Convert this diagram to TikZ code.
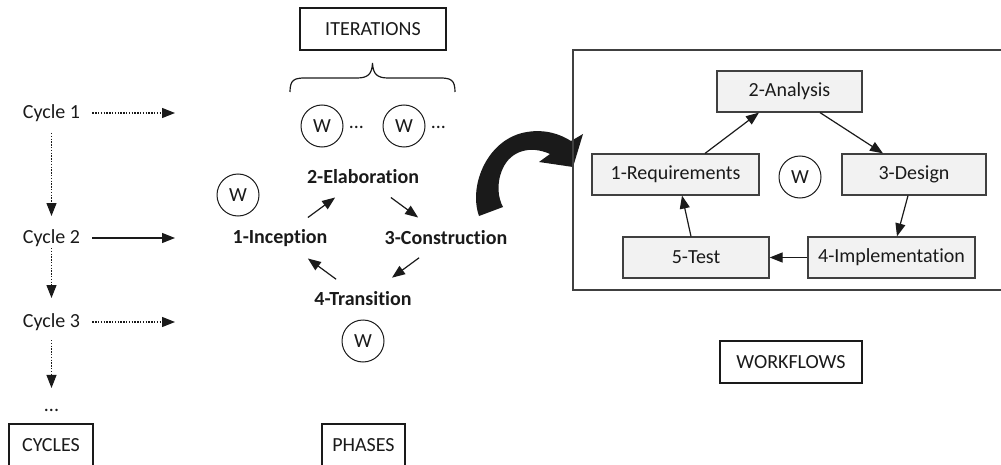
\documentclass[tikz,border=0pt]{standalone}
\usepackage{fontspec}
\setmainfont{Carlito}[RawFeature={-liga}]
\usetikzlibrary{arrows.meta}
\definecolor{wffill}{HTML}{F2F2F2}
\definecolor{wfline}{HTML}{404040}
\definecolor{ink}{HTML}{1A1A1A}
\begin{document}
\begin{tikzpicture}[x=0.5pt,y=-0.5pt,
  every node/.style={font=\fontsize{10}{12}\selectfont, inner sep=0pt, text=ink},
  tagbox/.style={draw=ink, line width=0.6pt, minimum height=21pt},
  wcircle/.style={circle, draw=ink, line width=0.5pt, minimum size=21pt},
  phase/.style={font=\fontsize{10}{12}\selectfont\bfseries},
  wfbox/.style={draw=wfline, fill=wffill, line width=0.6pt, minimum height=20.5pt},
  head/.style={-{Triangle[length=6.5pt,width=5pt]}},
  dotline/.style={draw=ink, line width=0.6pt, dash pattern=on 0.7pt off 0.7pt},
  solidline/.style={draw=ink, line width=0.6pt},
]
\useasboundingbox (0,0) rectangle (1001,465);
\clip (0,0) rectangle (1001,465);

% ---------- cycles ----------
\node (c1) at (51.5,113) {Cycle 1};
\node (c2) at (51.5,238) {Cycle 2};
\node (c3) at (51.5,322) {Cycle 3};
\node[anchor=base] (cdots) at (51.5,411) {...};
\node[tagbox, minimum width=42pt] (cycles) at (51,445) {CYCLES};

\coordinate (tgt) at (175,0);
\draw[dotline, head, shorten <=6pt] (c1.east) -- (c1.east -| tgt);
\draw[solidline, head, shorten <=6pt] (c2.east) -- (c2.east -| tgt);
\draw[dotline, head, shorten <=6pt] (c3.east) -- (c3.east -| tgt);

\draw[dotline, head, shorten <=10pt, shorten >=11pt] (c1.center) -- (c2.center);
\draw[dotline, head, shorten <=5pt, shorten >=12pt] (c2.center) -- (c3.center);
\draw[dotline, head, shorten <=9pt, shorten >=11pt] (c3.center) -- (cdots.center);

% ---------- iterations ----------
\node[tagbox, minimum width=73pt] (iter) at (373,29) {ITERATIONS};
\draw[ink, line width=0.6pt] (290,92) .. controls (290,80) and (294,78) .. (305,78)
  -- (357,78) .. controls (368,78) and (372,74) .. (372.5,63)
  .. controls (373,74) and (377,78) .. (388,78)
  -- (440,78) .. controls (451,78) and (455,80) .. (455,92);

\node[wcircle] (wa) at (322,126) {W};
\node[wcircle] (wb) at (404,126) {W};
\node[anchor=base west] (da) at ([xshift=2.5pt,yshift=-1.5pt]wa.east) {...};
\node[anchor=base west] (db) at ([xshift=2.5pt,yshift=-1.5pt]wb.east) {...};

% ---------- phases ----------
\node[phase] (inc) at (280,238) {1-Inception};
\node[phase] (ela) at (363,177) {2-Elaboration};
\node[phase] (con) at (446,238) {3-Construction};
\node[phase] (tra) at (363,299) {4-Transition};

\node[wcircle] (wl) at (238,195) {W};
\node[wcircle] (wt) at (363,341) {W};

\draw[solidline, head, shorten <=17.3pt, shorten >=17.3pt] (inc.center) -- (ela.center);
\draw[solidline, head, shorten <=17.3pt, shorten >=17.3pt] (ela.center) -- (con.center);
\draw[solidline, head, shorten <=16.7pt, shorten >=18pt] (con.center) -- (tra.center);
\draw[solidline, head, shorten <=16.7pt, shorten >=17.3pt] (tra.center) -- (inc.center);

\node[tagbox, minimum width=41.5pt] (phases) at (363.5,445) {PHASES};

% ---------- curved block arrow ----------
\fill[ink] (479,216) .. controls (468,185) and (488,138) .. (527,132)
  .. controls (545,129) and (560,134) .. (571,141)
  -- (583,134) -- (573,167) -- (539,162) -- (550,154)
  .. controls (530,145) and (511,151) .. (503,168)
  .. controls (496,183) and (498,198) .. (503,207) -- cycle;

% ---------- workflows ----------
\node[draw=wfline, line width=0.9pt, minimum width=220pt, minimum height=120pt,
      anchor=north west] (wfarea) at (572,49) {};

\node[wfbox, minimum width=72.5pt] (ana) at (789.5,91.5) {2-Analysis};
\node[wfbox, minimum width=83.5pt] (req) at (675.5,174.5) {1-Requirements};
\node[wfbox, minimum width=72pt] (des) at (914,174.5) {3-Design};
\node[wfbox, minimum width=73pt] (tst) at (696,257.5) {5-Test};
\node[wfbox, minimum width=83.5pt] (imp) at (891.5,257.5) {4-Implementation};
\node[wcircle] (ww) at (800,177) {W};

\draw[solidline, head] ([xshift=14.75pt]req.north) -- ([xshift=-15.25pt]ana.south);
\draw[solidline, head] ([xshift=15.25pt]ana.south) -- ([xshift=-15.5pt]des.north);
\draw[solidline, head] ([xshift=-3pt]des.south) -- ([xshift=2.75pt]imp.north);
\draw[solidline, head] (imp.west) -- (tst.east);
\draw[solidline, head] ([xshift=-2.5pt]tst.north) -- ([xshift=3.25pt]req.south);

\node[tagbox, minimum width=71pt] (wflows) at (791,362) {WORKFLOWS};
\end{tikzpicture}
\end{document}
